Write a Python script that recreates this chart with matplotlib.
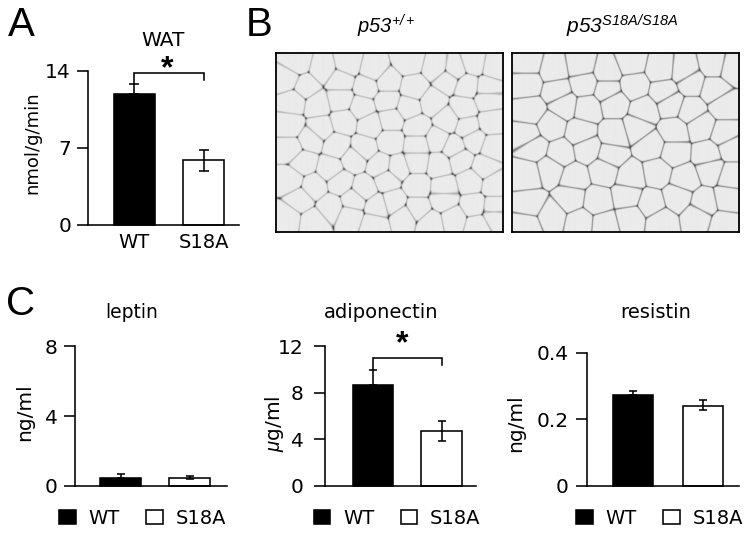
import numpy as np
import matplotlib
matplotlib.use("Agg")
import matplotlib.pyplot as plt
from matplotlib.patches import Patch

# ---------- data ----------
groups = ["WT", "S18A"]
wat_values = [11.86, 5.84]
wat_err_low = [0.0, 0.96]
wat_err_high = [0.91, 0.91]
leptin_values = [0.46, 0.46]
leptin_err_low = [0.0, 0.10]
leptin_err_high = [0.21, 0.09]
adipo_values = [8.64, 4.73]
adipo_err_low = [0.0, 0.91]
adipo_err_high = [1.36, 0.81]
resistin_values = [0.274, 0.240]
resistin_err_low = [0.0, 0.013]
resistin_err_high = [0.012, 0.018]

wat_ticks = [0, 7, 14]
leptin_ticks = [0, 4, 8]
adipo_ticks = [0, 4, 8, 12]
resistin_ticks = [0, 0.2, 0.4]
resistin_ticklabels = ["0", "0.2", "0.4"]

# cell centres of the two micrographs
left_rows = {195: [170, 250, 320, 400, 505, 590, 640, 700, 760],
             250: [140, 195, 300, 380, 440, 520, 620, 680, 740],
             310: [160, 230, 300, 365, 440, 505, 575, 670, 740],
             370: [150, 240, 310, 390, 450, 530, 620, 680, 750],
             430: [150, 210, 290, 370, 450, 530, 590, 640, 700, 755],
             490: [190, 270, 340, 420, 470, 530, 595, 660, 730],
             550: [150, 220, 300, 370, 440, 530, 610, 690, 760],
             610: [180, 270, 340, 410, 460, 530, 610, 700, 760],
             660: [140, 220, 330, 400, 490, 570, 640, 710, 760]}
right_rows = {200: [860, 940, 1020, 1100, 1170, 1260, 1330, 1420, 1470],
              260: [860, 950, 1030, 1100, 1180, 1270, 1350, 1420],
              320: [870, 970, 1040, 1120, 1210, 1290, 1350, 1450],
              390: [860, 930, 1020, 1120, 1190, 1300, 1380, 1450],
              450: [880, 960, 1040, 1110, 1230, 1300, 1400, 1470],
              520: [860, 930, 1000, 1090, 1170, 1250, 1330, 1410, 1470],
              600: [870, 990, 1070, 1160, 1230, 1310, 1390, 1460],
              660: [860, 930, 1020, 1090, 1170, 1260, 1370, 1450]}
# hand-set vertical shifts that break up the rows of cells in the micrographs
row_shifts = [-11, 9, -5, 14, -14, 6, 12, -8, 3, -13, 10]

# ---------- setup ----------
W, H = 752, 533
plt.rcParams["font.family"] = ["DejaVu Sans"]
plt.rcParams["mathtext.fontset"] = "custom"
plt.rcParams["mathtext.rm"] = "Liberation Sans:italic"
plt.rcParams["mathtext.it"] = "Liberation Sans:italic"
plt.rcParams["mathtext.bf"] = "Liberation Sans:bold"
LW = 1.15
fig = plt.figure(figsize=(W / 100, H / 100), dpi=100)


def axes_px(left, top, right, bottom):
    return fig.add_axes([left / W, 1 - bottom / H, (right - left) / W, (bottom - top) / H])


def ftext(x, y, s, **kw):
    kw.setdefault("ha", "center")
    kw.setdefault("va", "center")
    return fig.text(x / W, 1 - y / H, s, **kw)


def bar_panel(box, centres, bar_px, ymax, values, low, high, ticks, ticklabels, capsize, pad=4):
    left, top, right, bottom = box
    ax = axes_px(left, top, right, bottom)
    ax.patch.set_alpha(0)
    step = centres[1] - centres[0]
    xmin = -(centres[0] - left) / step
    ax.set_xlim(xmin, xmin + (right - left) / step)
    ax.set_ylim(0, ymax)
    x = np.arange(len(values))
    ax.bar(x, values, width=bar_px / step, color=["black", "white"], edgecolor="black",
           linewidth=LW, zorder=2, clip_on=False)
    ax.errorbar(x, values, yerr=[low, high], fmt="none", ecolor="black", elinewidth=LW,
                capsize=capsize, capthick=LW, zorder=3, clip_on=False)
    for s in ("top", "right"):
        ax.spines[s].set_visible(False)
    for s in ("left", "bottom"):
        ax.spines[s].set_linewidth(LW)
    ax.set_yticks(ticks)
    ax.set_yticklabels(ticklabels, fontsize=14.5)
    ax.tick_params(axis="y", length=8.2, width=LW, pad=pad)
    ax.set_xticks([])
    return ax


def bracket(ax, y_left, y_top, y_right):
    ax.plot([0, 0, 1, 1], [y_left, y_top, y_top, y_right], color="black", lw=LW,
            clip_on=False, zorder=4, solid_joinstyle="miter")


def add_legend(x_px, y_px):
    handles = [Patch(facecolor="black", edgecolor="black", linewidth=LW),
               Patch(facecolor="white", edgecolor="black", linewidth=LW)]
    return fig.legend(handles, groups, ncol=2, loc="upper left", frameon=False, fontsize=14,
                      bbox_to_anchor=(x_px / W, 1 - y_px / H), bbox_transform=fig.transFigure,
                      borderpad=0, borderaxespad=0, handlelength=0.87, handleheight=0.72,
                      handletextpad=0.65, columnspacing=1.35)


def micrograph(rows, box, wall_dark, node_dark, wall_sigma, x_off=240.0):
    left, top, right, bottom = box
    sx, sy = [], []
    k = 0
    for y, cols in rows.items():
        for xz in cols:
            sx.append(x_off + xz / 3)
            sy.append((y + row_shifts[k % len(row_shifts)]) / 3)
            k += 1
    sx, sy = np.array(sx), np.array(sy)
    xs = np.arange(left, right, 0.5)
    ys = np.arange(top, bottom, 0.5)
    gx, gy = np.meshgrid(xs, ys)
    d = np.sqrt((gx[..., None] - sx) ** 2 + (gy[..., None] - sy) ** 2)
    d.sort(axis=-1)
    wall = np.exp(-((d[..., 1] - d[..., 0]) ** 2) / (2 * wall_sigma ** 2))
    node = np.exp(-((d[..., 2] - d[..., 0]) ** 2) / (2 * 1.3 ** 2))
    img = 235 - wall_dark * wall - node_dark * node
    ax = axes_px(left, top, right, bottom)
    ax.imshow(np.clip(img, 0, 255), cmap="gray", vmin=0, vmax=255, aspect="auto",
              extent=(left, right, bottom, top), interpolation="bilinear")
    ax.set_xticks([])
    ax.set_yticks([])
    for s in ax.spines.values():
        s.set_linewidth(1.3)
    return ax


# ---------- panel A ----------
ax_a = bar_panel((88, 71, 239, 224.5), (134, 203.5), 41, 14, wat_values,
                 wat_err_low, wat_err_high, wat_ticks, [str(t) for t in wat_ticks], 3.6)
ax_a.set_xticks([0, 1])
ax_a.set_xticklabels(groups, fontsize=14)
ax_a.tick_params(axis="x", length=0, pad=6)
bracket(ax_a, 12.8, 13.82, 13.17)
ftext(163, 40, "WAT", fontsize=14.5)
ftext(167, 69, "*", fontsize=23, family="Liberation Sans", fontweight="bold")
ftext(32, 143, "nmol/g/min", fontsize=13, rotation=90)

# ---------- panel B ----------
micrograph(left_rows, (276, 52.7, 503.3, 231.7), 60, 130, 0.8)
micrograph(right_rows, (511.7, 52.7, 739, 231.7), 110, 70, 0.8)
ftext(386, 26, r"$\mathit{p53}^{\mathit{+/+}}$", fontsize=14.5)
ftext(622, 26, r"$\mathit{p53}^{\mathit{S18A/S18A}}$", fontsize=15)

# ---------- panel C ----------
ax_l = bar_panel((74.5, 346.3, 227, 485.7), (120.7, 189.7), 40.5, 8, leptin_values,
                 leptin_err_low, leptin_err_high, leptin_ticks, [str(t) for t in leptin_ticks], 3.0)
ax_d = bar_panel((324.7, 346.3, 476, 485.7), (373, 441.5), 40.5, 12, adipo_values,
                 adipo_err_low, adipo_err_high, adipo_ticks, [str(t) for t in adipo_ticks], 3.2, pad=7)
ax_r = bar_panel((587.3, 353, 739, 485.7), (632.8, 702.5), 40, 0.4, resistin_values,
                 resistin_err_low, resistin_err_high, resistin_ticks, resistin_ticklabels, 2.8, pad=5)
bracket(ax_d, 10.0, 11.02, 10.4)
ftext(402, 344, "*", fontsize=23, family="Liberation Sans", fontweight="bold")
ftext(132, 313, "leptin", fontsize=13.5)
ftext(380.7, 313, "adiponectin", fontsize=14)
ftext(656, 313, "resistin", fontsize=14)
ftext(25, 412, "ng/ml", fontsize=14.5, rotation=90)
ftext(275, 424, r"$\mathit{\mu}$g/ml", fontsize=14.5, rotation=90)
ftext(516, 423, "ng/ml", fontsize=14.5, rotation=90)
add_legend(58.7, 509)
add_legend(313.5, 509)
add_legend(576, 509)

# ---------- panel letters ----------
for x, y, s in [(21, 25, "A"), (259, 25, "B"), (21, 304, "C")]:
    ftext(x, y, s, fontsize=29, family="Liberation Sans")

fig.savefig("out.png", dpi=100, facecolor="white")
